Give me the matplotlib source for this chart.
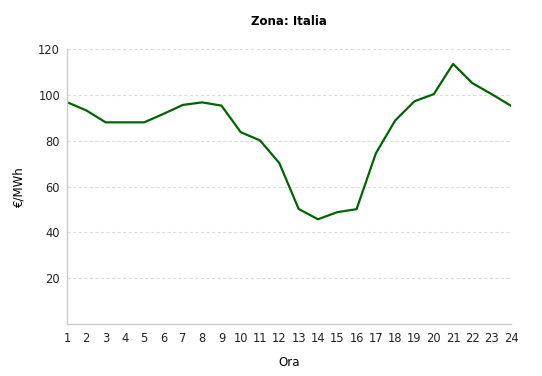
import matplotlib
matplotlib.use("Agg")
import matplotlib.pyplot as plt

# prezzi orari zona Italia
ore = list(range(1, 25))
prezzi = [96.8, 93.2, 88.0, 88.0, 88.0, 91.7, 95.6, 96.7, 95.3, 83.7, 80.1, 70.2,
          50.2, 45.7, 48.8, 50.1, 74.5, 88.8, 97.2, 100.3, 113.5, 105.1, 100.3, 95.2]
y_ticks = [20, 40, 60, 80, 100, 120]

fig = plt.figure(figsize=(5.42, 3.76), dpi=100)
ax = fig.add_axes([67 / 542, 1 - 324 / 376, (511 - 67) / 542, (324 - 49) / 376])

ax.plot(ore, prezzi, color="#006400", linewidth=1.6, solid_joinstyle="round")

ax.set_xlim(1, 24)
ax.set_ylim(0, 120)
ax.set_xticks(ore)
ax.set_yticks(y_ticks)
ax.tick_params(length=0, labelsize=8.3, colors="#222222", pad=6)
ax.tick_params(axis="y", pad=5)

ax.grid(axis="y", color="#dddddd", linestyle=(0, (3, 2)), linewidth=0.8)
for s in ["top", "right"]:
    ax.spines[s].set_visible(False)
for s in ["left", "bottom"]:
    ax.spines[s].set_color("#cccccc")
    ax.spines[s].set_linewidth(1)

ax.set_title("Zona: Italia", fontsize=8.5, fontweight="bold", pad=17)
ax.set_xlabel("Ora", fontsize=8.5, labelpad=8)
ax.set_ylabel("€/MWh", fontsize=8.5, labelpad=9)

fig.savefig("out.png", dpi=100)
